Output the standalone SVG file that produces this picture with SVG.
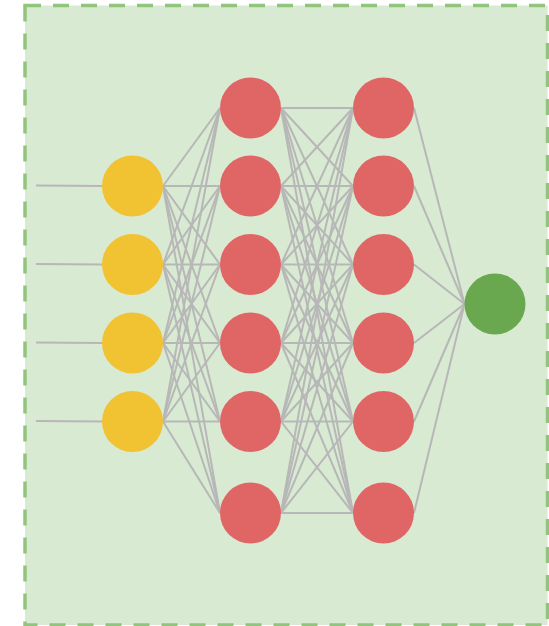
<svg xmlns="http://www.w3.org/2000/svg" width="549" height="626" viewBox="0 0 549 626">
<style>
.frame{fill:#d9ead3;stroke:#93c47d;stroke-width:3.5;stroke-dasharray:16 12}
.c line{stroke:#b7b7b7;stroke-width:2}
.in{fill:#f1c232}.hid{fill:#e06666}.out{fill:#6aa84f}
</style>
<rect class="frame" x="25" y="5.5" width="522.5" height="619.5"/>
<g id="connectors" class="c">
<line x1="36" y1="185.5" x2="102.5" y2="186"/>
<line x1="36" y1="264" x2="102.5" y2="264.5"/>
<line x1="36" y1="342.5" x2="102.5" y2="343"/>
<line x1="36" y1="421" x2="102.5" y2="421.5"/>
<!-- input -> hidden1 -->
<line x1="163" y1="186" x2="220" y2="108"/><line x1="163" y1="186" x2="220" y2="186"/><line x1="163" y1="186" x2="220" y2="264.5"/><line x1="163" y1="186" x2="220" y2="343"/><line x1="163" y1="186" x2="220" y2="421.5"/><line x1="163" y1="186" x2="220" y2="513"/>
<line x1="163" y1="264.5" x2="220" y2="108"/><line x1="163" y1="264.5" x2="220" y2="186"/><line x1="163" y1="264.5" x2="220" y2="264.5"/><line x1="163" y1="264.5" x2="220" y2="343"/><line x1="163" y1="264.5" x2="220" y2="421.5"/><line x1="163" y1="264.5" x2="220" y2="513"/>
<line x1="163" y1="343" x2="220" y2="108"/><line x1="163" y1="343" x2="220" y2="186"/><line x1="163" y1="343" x2="220" y2="264.5"/><line x1="163" y1="343" x2="220" y2="343"/><line x1="163" y1="343" x2="220" y2="421.5"/><line x1="163" y1="343" x2="220" y2="513"/>
<line x1="163" y1="421.5" x2="220" y2="108"/><line x1="163" y1="421.5" x2="220" y2="186"/><line x1="163" y1="421.5" x2="220" y2="264.5"/><line x1="163" y1="421.5" x2="220" y2="343"/><line x1="163" y1="421.5" x2="220" y2="421.5"/><line x1="163" y1="421.5" x2="220" y2="513"/>
<!-- hidden1 -> hidden2 -->
<line x1="281" y1="108" x2="353" y2="108"/><line x1="281" y1="108" x2="353" y2="186"/><line x1="281" y1="108" x2="353" y2="264.5"/><line x1="281" y1="108" x2="353" y2="343"/><line x1="281" y1="108" x2="353" y2="421.5"/><line x1="281" y1="108" x2="353" y2="513"/>
<line x1="281" y1="186" x2="353" y2="108"/><line x1="281" y1="186" x2="353" y2="186"/><line x1="281" y1="186" x2="353" y2="264.5"/><line x1="281" y1="186" x2="353" y2="343"/><line x1="281" y1="186" x2="353" y2="421.5"/><line x1="281" y1="186" x2="353" y2="513"/>
<line x1="281" y1="264.5" x2="353" y2="108"/><line x1="281" y1="264.5" x2="353" y2="186"/><line x1="281" y1="264.5" x2="353" y2="264.5"/><line x1="281" y1="264.5" x2="353" y2="343"/><line x1="281" y1="264.5" x2="353" y2="421.5"/><line x1="281" y1="264.5" x2="353" y2="513"/>
<line x1="281" y1="343" x2="353" y2="108"/><line x1="281" y1="343" x2="353" y2="186"/><line x1="281" y1="343" x2="353" y2="264.5"/><line x1="281" y1="343" x2="353" y2="343"/><line x1="281" y1="343" x2="353" y2="421.5"/><line x1="281" y1="343" x2="353" y2="513"/>
<line x1="281" y1="421.5" x2="353" y2="108"/><line x1="281" y1="421.5" x2="353" y2="186"/><line x1="281" y1="421.5" x2="353" y2="264.5"/><line x1="281" y1="421.5" x2="353" y2="343"/><line x1="281" y1="421.5" x2="353" y2="421.5"/><line x1="281" y1="421.5" x2="353" y2="513"/>
<line x1="281" y1="513" x2="353" y2="108"/><line x1="281" y1="513" x2="353" y2="186"/><line x1="281" y1="513" x2="353" y2="264.5"/><line x1="281" y1="513" x2="353" y2="343"/><line x1="281" y1="513" x2="353" y2="421.5"/><line x1="281" y1="513" x2="353" y2="513"/>
<!-- hidden2 -> output -->
<line x1="414" y1="108" x2="464.5" y2="304"/><line x1="414" y1="186" x2="464.5" y2="304"/><line x1="414" y1="264.5" x2="464.5" y2="304"/><line x1="414" y1="343" x2="464.5" y2="304"/><line x1="414" y1="421.5" x2="464.5" y2="304"/><line x1="414" y1="513" x2="464.5" y2="304"/>
</g>
<g id="in1"><circle class="in" cx="132.5" cy="186" r="30.5"/></g>
<g id="in2"><circle class="in" cx="132.5" cy="264.5" r="30.5"/></g>
<g id="in3"><circle class="in" cx="132.5" cy="343" r="30.5"/></g>
<g id="in4"><circle class="in" cx="132.5" cy="421.5" r="30.5"/></g>
<g id="h1a"><circle class="hid" cx="250.5" cy="108" r="30.5"/></g>
<g id="h1b"><circle class="hid" cx="250.5" cy="186" r="30.5"/></g>
<g id="h1c"><circle class="hid" cx="250.5" cy="264.5" r="30.5"/></g>
<g id="h1d"><circle class="hid" cx="250.5" cy="343" r="30.5"/></g>
<g id="h1e"><circle class="hid" cx="250.5" cy="421.5" r="30.5"/></g>
<g id="h1f"><circle class="hid" cx="250.5" cy="513" r="30.5"/></g>
<g id="h2a"><circle class="hid" cx="383.5" cy="108" r="30.5"/></g>
<g id="h2b"><circle class="hid" cx="383.5" cy="186" r="30.5"/></g>
<g id="h2c"><circle class="hid" cx="383.5" cy="264.5" r="30.5"/></g>
<g id="h2d"><circle class="hid" cx="383.5" cy="343" r="30.5"/></g>
<g id="h2e"><circle class="hid" cx="383.5" cy="421.5" r="30.5"/></g>
<g id="h2f"><circle class="hid" cx="383.5" cy="513" r="30.5"/></g>
<g id="out"><circle class="out" cx="495" cy="304" r="30.5"/></g>
</svg>
